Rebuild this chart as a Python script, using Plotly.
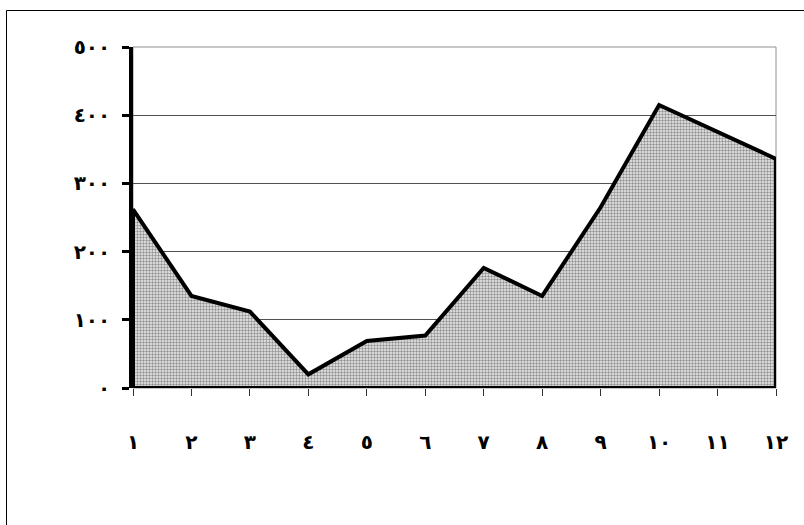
import plotly.graph_objects as go

# Monthly values (months 1..12)
months = [1, 2, 3, 4, 5, 6, 7, 8, 9, 10, 11, 12]
values = [262, 135, 112, 20, 69, 77, 176, 135, 265, 415, 376, 336]

# Arabic-Indic tick labels
month_labels = ["١", "٢", "٣", "٤", "٥", "٦", "٧", "٨", "٩", "١٠", "١١", "١٢"]
y_ticks = [0, 100, 200, 300, 400, 500]
y_labels = ["٠", "١٠٠", "٢٠٠", "٣٠٠", "٤٠٠", "٥٠٠"]

# Closed outline of the area: down to the baseline at both ends
poly_x = [months[0]] + months + [months[-1], months[0]]
poly_y = [0] + values + [0, 0]

fig = go.Figure()
fig.add_trace(go.Scatter(
    x=poly_x, y=poly_y,
    mode="lines",
    fill="toself",
    fillcolor="#c4c4c4",
    fillpattern=dict(shape=".", size=3, solidity=0.5,
                     fgcolor="#333333", bgcolor="#eeeeee"),
    line=dict(color="black", width=4),
    hoverinfo="skip",
    showlegend=False,
))

tick_font = dict(family="DejaVu Sans", size=20, color="black", weight="bold")

fig.update_layout(
    width=804, height=525,
    margin=dict(l=133, r=28, t=47, b=137),
    paper_bgcolor="white",
    plot_bgcolor="white",
    showlegend=False,
    xaxis=dict(
        range=[1, 12],
        tickmode="array", tickvals=months, ticktext=month_labels,
        showgrid=False, zeroline=False,
        showline=False,
        ticks="outside", ticklen=7, tickwidth=1, tickcolor="#333",
        ticklabelstandoff=29,
        tickfont=tick_font,
    ),
    yaxis=dict(
        range=[0, 500],
        tickmode="array", tickvals=y_ticks, ticktext=y_labels,
        showgrid=True, gridcolor="#505050", gridwidth=1,
        zeroline=False,
        showline=True, linecolor="black", linewidth=3.5,
        ticks="outside", ticklen=7, tickwidth=3, tickcolor="black",
        ticklabelstandoff=8,
        tickfont=tick_font,
    ),
    shapes=[
        # plot area border
        dict(type="rect", xref="paper", yref="paper", x0=0, x1=1, y0=0, y1=1,
             line=dict(color="#909090", width=1), layer="below"),
        # outer chart frame
        dict(type="rect", xref="paper", yref="paper",
             x0=(6.5 - 133) / 643, x1=1.2, y0=-0.6, y1=(388 - 10.5) / 341,
             line=dict(color="black", width=1)),
    ],
)

fig.write_html("out.html")
